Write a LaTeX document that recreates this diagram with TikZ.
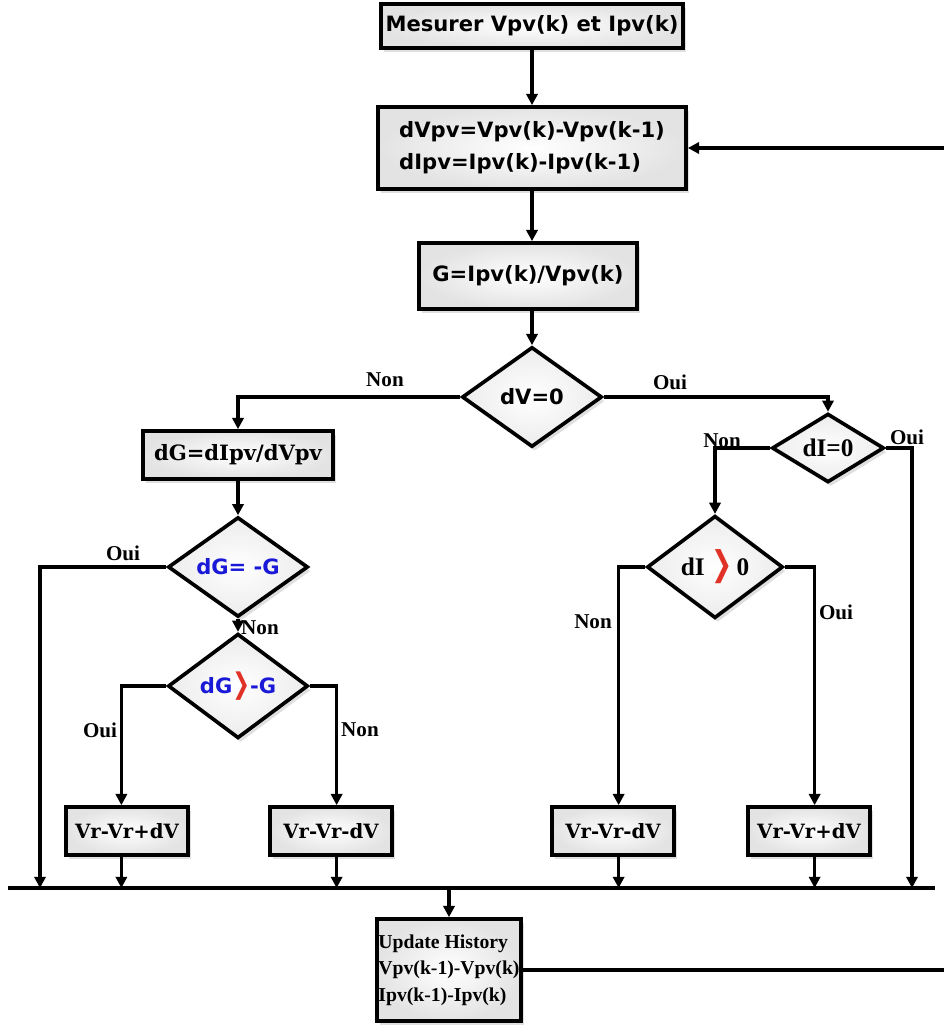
\documentclass[tikz,border=0pt]{standalone}
\usepackage{fontspec}
\setmainfont{Liberation Serif}
\newfontfamily\sanb{DejaVu Sans}
\newfontfamily\serb{DejaVu Serif}
\usetikzlibrary{shapes.geometric,arrows.meta,shadows}
\definecolor{dgblue}{RGB}{25,25,215}
\definecolor{chevred}{RGB}{225,50,40}
\newcommand{\chev}{{\color{chevred}\sanb\scalebox{1}[1.35]{❯}}}
\tikzset{
  box/.style={draw, line width=2.6pt, inner sep=1pt, inner color=white, outer color=gray!22,
    drop shadow={shadow xshift=2pt, shadow yshift=-3pt, opacity=0.25}},
  decision/.style={diamond, draw, line width=2.6pt, inner sep=0pt, inner color=white, outer color=gray!15,
    drop shadow={shadow xshift=2pt, shadow yshift=-3pt, opacity=0.25}},
  lbl/.style={font=\bfseries\fontsize{15}{15}\selectfont},
  sanstxt/.style={font=\sanb\bfseries\fontsize{15}{23}\selectfont},
  seriftxt/.style={font=\serb\bfseries\fontsize{14}{16}\selectfont}
}
\begin{document}
\begin{tikzpicture}[x=0.025cm,y=-0.025cm,>={Triangle[length=8pt,width=8pt]},line width=2.5pt]
    \useasboundingbox (0,0) rectangle (944,1025);
    \node[box,sanstxt,minimum width=7.55cm,minimum height=1.1cm] (mes) at (532,26) {Mesurer Vpv(k) et Ipv(k)};
    \node[box,sanstxt,align=left,minimum width=7.7cm,minimum height=2.05cm] (diff) at (532,148) {dVpv=Vpv(k)-Vpv(k-1)\\dIpv=Ipv(k)-Ipv(k-1)};
    \node[box,sanstxt,minimum width=5.45cm,minimum height=1.65cm] (cond) at (528,276) {G=Ipv(k)/Vpv(k)};
    \node[decision,sanstxt,minimum width=3.5cm,minimum height=2.5cm] (dv) at (532,397) {dV=0};
    \node[box,font=\serb\bfseries\fontsize{15}{16}\selectfont,minimum width=4.75cm,minimum height=1.2cm] (dg) at (238,455) {dG=dIpv/dVpv};
    \node[decision,sanstxt,text=dgblue,minimum width=3.5cm,minimum height=1.7cm] (eq) at (238,567) {dG= -G};
    \node[decision,sanstxt,text=dgblue,minimum width=3.5cm,minimum height=1.7cm] (gt) at (238,686) {dG\chev-G};
    \node[decision,font=\bfseries\fontsize{18}{18}\selectfont,minimum width=2.8cm,minimum height=1.7cm] (di) at (828,448) {dI=0};
    \node[decision,font=\bfseries\fontsize{18}{18}\selectfont,minimum width=3.4cm,minimum height=2.5cm] (dipos) at (715,567) {dI \chev\,0};
    \node[box,seriftxt,minimum width=3.05cm,minimum height=1.2cm] (vr1) at (127,831) {Vr-Vr+dV};
    \node[box,seriftxt,minimum width=3.05cm,minimum height=1.2cm] (vr2) at (331,831) {Vr-Vr-dV};
    \node[box,seriftxt,minimum width=3.05cm,minimum height=1.2cm] (vr3) at (613,831) {Vr-Vr-dV};
    \node[box,seriftxt,minimum width=3.05cm,minimum height=1.2cm] (vr4) at (809,831) {Vr-Vr+dV};
    \node[box,align=left,font=\bfseries\fontsize{14}{19}\selectfont,minimum width=3.4cm,minimum height=2.55cm] (upd) at (449,970) {Update History\\Vpv(k-1)-Vpv(k)\\Ipv(k-1)-Ipv(k)};
    \coordinate (busl) at (8,888);
    \coordinate (busr) at (935,888);
    \coordinate (eqout) at (40,567);
    \coordinate (diout) at (912,448);
    \coordinate (ret) at (965,970);
    \draw[->] (mes) -- (diff);
    \draw[->] (diff.south -| dv.north) -- (cond.north -| dv.north);
    \draw[->] (cond.south -| dv.north) -- (dv.north);
    \draw[->] (dv.west) -| (dg.north);
    \draw[->] (dv.east) -| (di.north);
    \draw[->] (dg) -- (eq);
    \draw[->] (eq.west) -- (eqout) -- (eqout |- busl);
    \draw[->] (eq) -- (gt);
    \draw[->] (gt.west) -| ([xshift=-4]vr1.north);
    \draw[->] (gt.east) -| ([xshift=4]vr2.north);
    \draw[->] (di.west) -| (dipos.north);
    \draw[->] (di.east) -- (diout) -- (diout |- busl);
    \draw[->] (dipos.west) -| ([xshift=4]vr3.north);
    \draw[->] (dipos.east) -| ([xshift=4]vr4.north);
    \draw (busl) -- (busr);
    \draw[->] ([xshift=-4]vr1.south) -- ([xshift=-4]vr1.south |- busl);
    \draw[->] ([xshift=4]vr2.south) -- ([xshift=4]vr2.south |- busl);
    \draw[->] ([xshift=4]vr3.south) -- ([xshift=4]vr3.south |- busl);
    \draw[->] ([xshift=4]vr4.south) -- ([xshift=4]vr4.south |- busl);
    \draw[->] (upd.north |- busl) -- (upd.north);
    \draw[->] (upd.east) -- (ret) |- (diff.east);
    \node[lbl] (l1) at (385,380) {Non};
    \node[lbl] (l2) at (670,382) {Oui};
    \node[lbl] (l3) at (722,441) {Non};
    \node[lbl] (l4) at (907,437) {Oui};
    \node[lbl] (l5) at (123,553) {Oui};
    \node[lbl] (l6) at (260,628) {Non};
    \node[lbl] (l7) at (100,730) {Oui};
    \node[lbl] (l8) at (360,730) {Non};
    \node[lbl] (l9) at (593,622) {Non};
    \node[lbl] (l10) at (836,612) {Oui};
\end{tikzpicture}
\end{document}
